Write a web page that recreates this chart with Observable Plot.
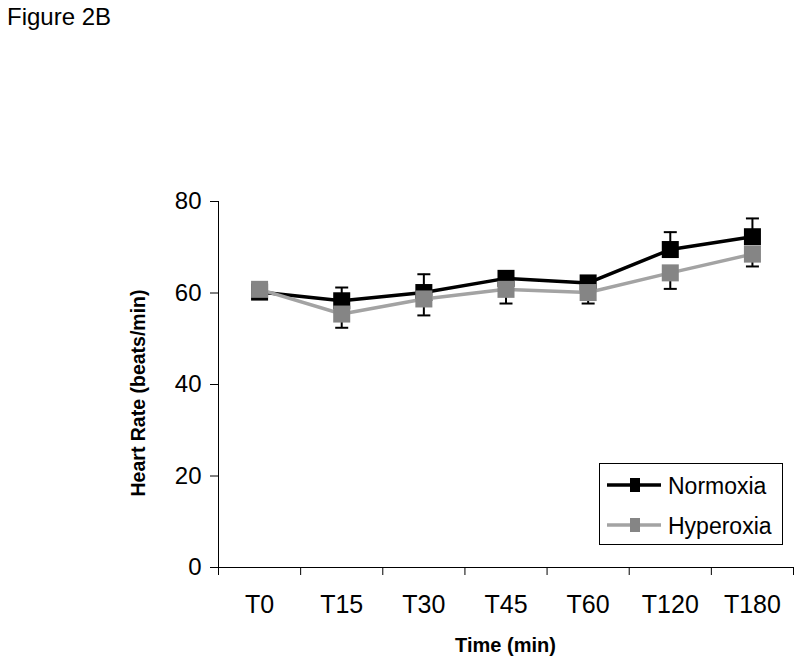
<!DOCTYPE html>
<html>
<head>
<meta charset="utf-8">
<script src="https://cdn.jsdelivr.net/npm/d3@7"></script>
<script src="https://cdn.jsdelivr.net/npm/@observablehq/plot@0.6"></script>
<style>
  html, body { margin: 0; padding: 0; background: white; }
  #wrap { position: relative; width: 800px; height: 661px; }
  #wrap svg { position: absolute; left: 0; top: 0; }
</style>
</head>
<body>
<div id="wrap"></div>
<script>
// ---- data ----
const categories = ["T0", "T15", "T30", "T45", "T60", "T120", "T180"];
const normoxia = [60.2, 58.3, 60.1, 63.2, 62.2, 69.5, 72.3];
const normoxiaSE = [1.2, 2.9, 4.0, 1.5, 1.5, 3.8, 4.0];
const hyperoxia = [60.8, 55.4, 58.7, 60.8, 60.1, 64.4, 68.5];
const hyperoxiaSE = [1.2, 3.0, 3.6, 3.1, 2.4, 3.5, 2.7];
const yTicks = [0, 20, 40, 60, 80];
const seriesNames = ["Normoxia", "Hyperoxia"];

// ---- tables ----
const norm = categories.map((c, i) => ({x: i + 0.5, cat: c, value: normoxia[i], se: normoxiaSE[i]}));
const hyper = categories.map((c, i) => ({x: i + 0.5, cat: c, value: hyperoxia[i], se: hyperoxiaSE[i]}));

const capSymbol = {
  draw(context, size) {
    const w = Math.sqrt(size / Math.PI);
    context.moveTo(-w, 0);
    context.lineTo(w, 0);
  }
};

const grayMarker = "#858585";
const grayLine = "#a3a3a3";

const chart = Plot.plot({
  width: 800,
  height: 661,
  marginLeft: 218,
  marginRight: 7,
  marginTop: 201,
  marginBottom: 94,
  x: {domain: [0, 7], axis: null},
  y: {domain: [0, 80], axis: null},
  style: {fontFamily: "'Liberation Sans', Arial, sans-serif", color: "black", background: "white"},
  marks: [
    Plot.ruleX([0], {stroke: "black", strokeWidth: 1}),
    Plot.ruleY([0], {stroke: "black", strokeWidth: 1}),
    Plot.axisY(yTicks, {tickSize: 8, tickPadding: 9, fontSize: 24, label: null, stroke: "black", strokeOpacity: 1}),
    Plot.axisX(d3.range(categories.length + 1), {tickSize: 8, tickFormat: () => "", label: null, stroke: "black", strokeOpacity: 1}),
    Plot.axisX(categories.map((c, i) => i + 0.5), {tickSize: 0, tickPadding: 28, fontSize: 25, label: null,
      tickFormat: d => categories[Math.round(d - 0.5)]}),
    // Normoxia
    Plot.ruleX(norm, {x: "x", y1: "value", y2: d => d.value + d.se, stroke: "black", strokeWidth: 2}),
    Plot.dot(norm, {x: "x", y: d => d.value + d.se, symbol: capSymbol, r: 6.5, stroke: "black", strokeWidth: 2}),
    Plot.line(norm, {x: "x", y: "value", stroke: "black", strokeWidth: 3.5}),
    Plot.dot(norm, {x: "x", y: "value", symbol: "square", r: 9.6, fill: "black", stroke: null}),
    // Hyperoxia
    Plot.ruleX(hyper, {x: "x", y1: "value", y2: d => d.value - d.se, stroke: "black", strokeWidth: 2}),
    Plot.dot(hyper, {x: "x", y: d => d.value - d.se, symbol: capSymbol, r: 6.5, stroke: "black", strokeWidth: 2}),
    Plot.line(hyper, {x: "x", y: "value", stroke: grayLine, strokeWidth: 3.5}),
    Plot.dot(hyper, {x: "x", y: "value", symbol: "square", r: 9.6, fill: grayMarker, stroke: null})
  ]
});

const wrap = document.getElementById("wrap");
wrap.appendChild(chart);

// ---- overlay: title, axis titles, legend ----
const ov = d3.select(wrap).append("svg")
  .attr("width", 800).attr("height", 661)
  .style("font-family", "'Liberation Sans', Arial, sans-serif");

ov.append("text").attr("x", 7).attr("y", 25).attr("font-size", 24).attr("fill", "black").text("Figure 2B");

ov.append("text")
  .attr("transform", "translate(145,393) rotate(-90)")
  .attr("text-anchor", "middle").attr("font-size", 19.5).attr("font-weight", "bold")
  .text("Heart Rate (beats/min)");

ov.append("text")
  .attr("x", 505.5).attr("y", 652)
  .attr("text-anchor", "middle").attr("font-size", 20).attr("font-weight", "bold")
  .text("Time (min)");

const lg = ov.append("g");
lg.append("rect").attr("x", 599.5).attr("y", 463.5).attr("width", 183).attr("height", 81)
  .attr("fill", "white").attr("stroke", "black").attr("stroke-width", 1);
const legendItems = [
  {name: seriesNames[0], line: "black", marker: "black", y: 485},
  {name: seriesNames[1], line: grayLine, marker: grayMarker, y: 525}
];
legendItems.forEach(it => {
  lg.append("line").attr("x1", 607).attr("x2", 661).attr("y1", it.y).attr("y2", it.y)
    .attr("stroke", it.line).attr("stroke-width", 3.5);
  lg.append("rect").attr("x", 630).attr("y", it.y - 7).attr("width", 10).attr("height", 14).attr("fill", it.marker);
  lg.append("text").attr("x", 668).attr("y", it.y + 9).attr("font-size", 23).attr("fill", "black").text(it.name);
});
</script>
</body>
</html>
